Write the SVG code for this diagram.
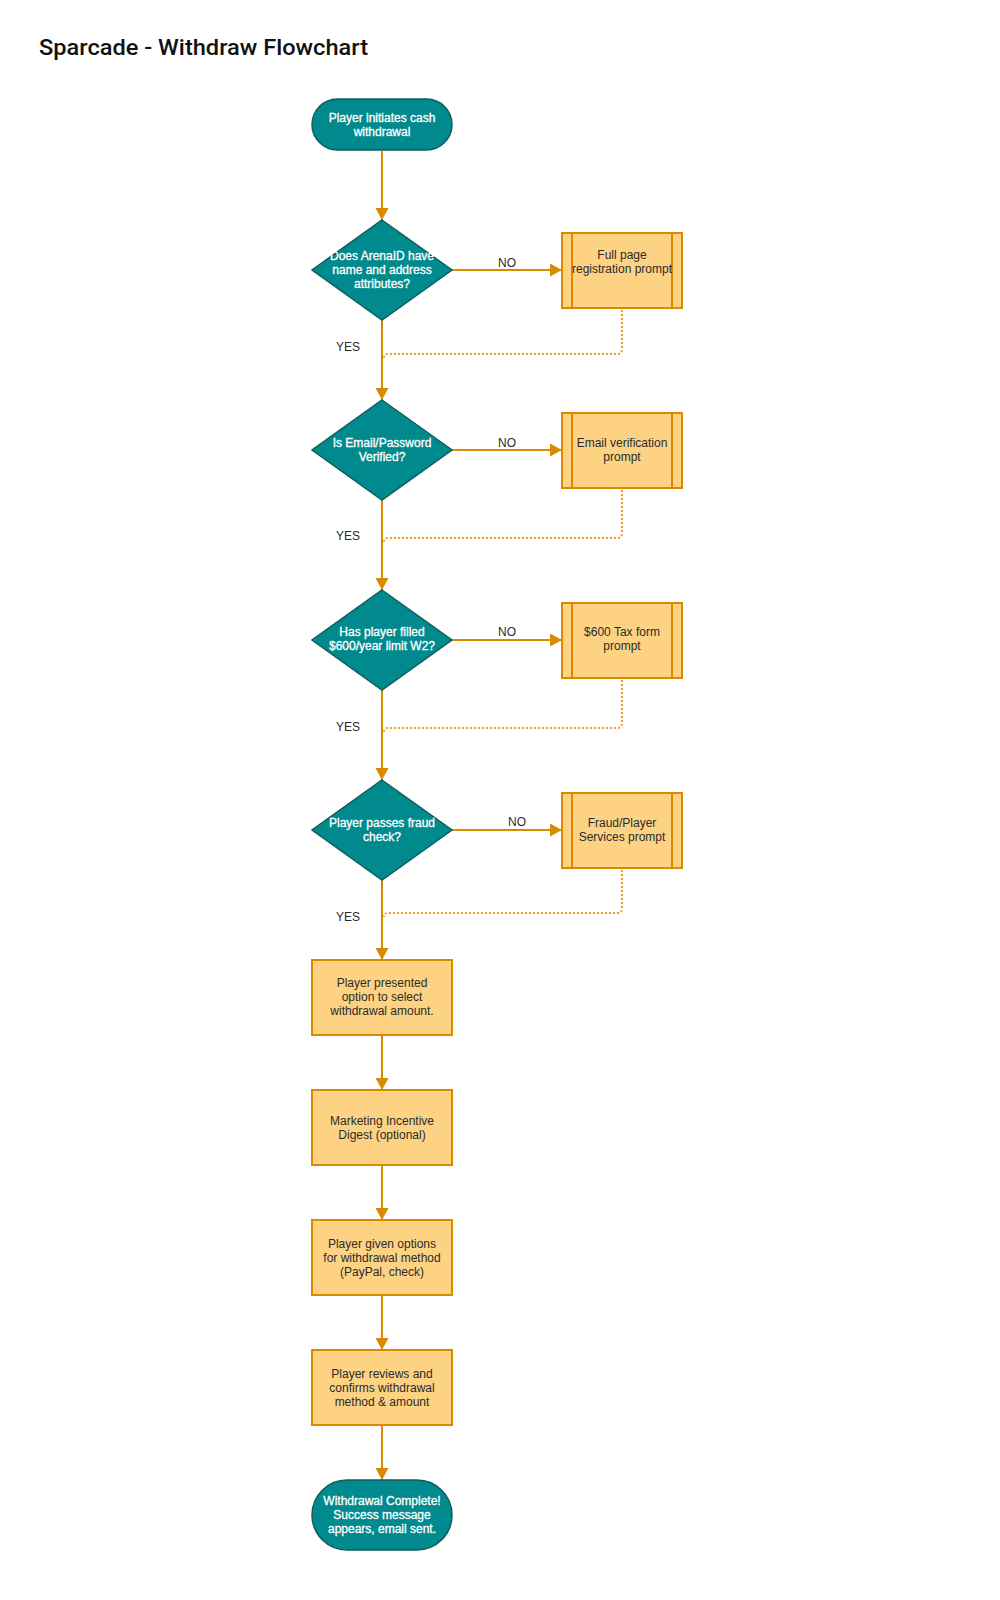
<svg xmlns="http://www.w3.org/2000/svg" width="1000" height="1600" viewBox="0 0 1000 1600">
<style>
.term{fill:#008a8e;stroke:#0e5e60;stroke-width:1.5}
.dec{fill:#008a8e;stroke:#0e5e60;stroke-width:1.5}
.proc{fill:#fdd283;stroke:#da8a00;stroke-width:2}
.sub{fill:none;stroke:#da8a00;stroke-width:2}
.wt{font-family:"Liberation Sans",Arial,sans-serif;font-size:12px;fill:#ffffff;stroke:#ffffff;stroke-width:0.3;text-anchor:middle}
.dt{font-family:"Liberation Sans",Arial,sans-serif;font-size:12px;fill:#2b2b2b;text-anchor:middle}
.lbl{font-family:"Liberation Sans",Arial,sans-serif;font-size:12px;fill:#2b2b2b;text-anchor:middle}
.edge{fill:none;stroke:#da8a00;stroke-width:2}
.dot{fill:none;stroke:#ee9c28;stroke-width:2;stroke-dasharray:2 2}
.title{font-family:Roboto,"DejaVu Sans",sans-serif;font-size:22px;font-weight:500;fill:#111111}
</style>
<defs>
<marker id="arr" viewBox="0 0 12 13" refX="12" refY="6.5" markerWidth="12" markerHeight="13" markerUnits="userSpaceOnUse" orient="auto">
<path d="M0,0 L12,6.5 L0,13 z" fill="#da8a00"/>
</marker>
</defs>
<rect width="1000" height="1600" fill="#ffffff"/>
<text class="title" x="39" y="55" textLength="329" lengthAdjust="spacingAndGlyphs">Sparcade - Withdraw Flowchart</text>

<g id="connectors">
<path class="edge" d="M382,151 V220" marker-end="url(#arr)"/>
<path class="edge" d="M452,270 H562" marker-end="url(#arr)"/>
<path class="edge" d="M382,320 V400" marker-end="url(#arr)"/>
<path class="dot" d="M622,310 V349 Q622,354 617,354 H388 Q384,354 384,358"/>
<path class="edge" d="M452,450 H562" marker-end="url(#arr)"/>
<path class="edge" d="M382,500 V590" marker-end="url(#arr)"/>
<path class="dot" d="M622,490 V533 Q622,538 617,538 H388 Q384,538 384,542"/>
<path class="edge" d="M452,640 H562" marker-end="url(#arr)"/>
<path class="edge" d="M382,690 V780" marker-end="url(#arr)"/>
<path class="dot" d="M622,680 V723 Q622,728 617,728 H388 Q384,728 384,732"/>
<path class="edge" d="M452,830 H562" marker-end="url(#arr)"/>
<path class="edge" d="M382,880 V960" marker-end="url(#arr)"/>
<path class="dot" d="M622,870 V908 Q622,913 617,913 H388 Q384,913 384,917"/>
<path class="edge" d="M382,1035 V1090" marker-end="url(#arr)"/>
<path class="edge" d="M382,1165 V1220" marker-end="url(#arr)"/>
<path class="edge" d="M382,1295 V1350" marker-end="url(#arr)"/>
<path class="edge" d="M382,1425 V1480" marker-end="url(#arr)"/>
<text class="lbl" x="507" y="267">NO</text>
<text class="lbl" x="507" y="447">NO</text>
<text class="lbl" x="507" y="636">NO</text>
<text class="lbl" x="517" y="826">NO</text>
<text class="lbl" x="348" y="351">YES</text>
<text class="lbl" x="348" y="540">YES</text>
<text class="lbl" x="348" y="731">YES</text>
<text class="lbl" x="348" y="921">YES</text>
</g>

<g id="start">
<rect class="term" x="312" y="99" width="140" height="51" rx="25.5"/>
<text class="wt" x="382" y="122">Player initiates cash</text>
<text class="wt" x="382" y="136">withdrawal</text>
</g>

<g id="d1">
<polygon class="dec" points="382,220 452,270 382,320 312,270"/>
<text class="wt" x="382" y="260">Does ArenaID have</text>
<text class="wt" x="382" y="274">name and address</text>
<text class="wt" x="382" y="288">attributes?</text>
</g>
<g id="p1">
<rect class="proc" x="562" y="233" width="120" height="75"/>
<path class="sub" d="M572,233 V308 M672,233 V308"/>
<text class="dt" x="622" y="259">Full page</text>
<text class="dt" x="622" y="273">registration prompt</text>
</g>

<g id="d2">
<polygon class="dec" points="382,400 452,450 382,500 312,450"/>
<text class="wt" x="382" y="447">Is Email/Password</text>
<text class="wt" x="382" y="461">Verified?</text>
</g>
<g id="p2">
<rect class="proc" x="562" y="413" width="120" height="75"/>
<path class="sub" d="M572,413 V488 M672,413 V488"/>
<text class="dt" x="622" y="447">Email verification</text>
<text class="dt" x="622" y="461">prompt</text>
</g>

<g id="d3">
<polygon class="dec" points="382,590 452,640 382,690 312,640"/>
<text class="wt" x="382" y="636">Has player filled</text>
<text class="wt" x="382" y="650">$600/year limit W2?</text>
</g>
<g id="p3">
<rect class="proc" x="562" y="603" width="120" height="75"/>
<path class="sub" d="M572,603 V678 M672,603 V678"/>
<text class="dt" x="622" y="636">$600 Tax form</text>
<text class="dt" x="622" y="650">prompt</text>
</g>

<g id="d4">
<polygon class="dec" points="382,780 452,830 382,880 312,830"/>
<text class="wt" x="382" y="827">Player passes fraud</text>
<text class="wt" x="382" y="841">check?</text>
</g>
<g id="p4">
<rect class="proc" x="562" y="793" width="120" height="75"/>
<path class="sub" d="M572,793 V868 M672,793 V868"/>
<text class="dt" x="622" y="827">Fraud/Player</text>
<text class="dt" x="622" y="841">Services prompt</text>
</g>

<g id="p5">
<rect class="proc" x="312" y="960" width="140" height="75"/>
<text class="dt" x="382" y="987">Player presented</text>
<text class="dt" x="382" y="1001">option to select</text>
<text class="dt" x="382" y="1015">withdrawal amount.</text>
</g>
<g id="p6">
<rect class="proc" x="312" y="1090" width="140" height="75"/>
<text class="dt" x="382" y="1125">Marketing Incentive</text>
<text class="dt" x="382" y="1139">Digest (optional)</text>
</g>
<g id="p7">
<rect class="proc" x="312" y="1220" width="140" height="75"/>
<text class="dt" x="382" y="1248">Player given options</text>
<text class="dt" x="382" y="1262">for withdrawal method</text>
<text class="dt" x="382" y="1276">(PayPal, check)</text>
</g>
<g id="p8">
<rect class="proc" x="312" y="1350" width="140" height="75"/>
<text class="dt" x="382" y="1378">Player reviews and</text>
<text class="dt" x="382" y="1392">confirms withdrawal</text>
<text class="dt" x="382" y="1406">method &amp; amount</text>
</g>
<g id="end">
<rect class="term" x="312" y="1480" width="140" height="70" rx="35"/>
<text class="wt" x="382" y="1505">Withdrawal Complete!</text>
<text class="wt" x="382" y="1519">Success message</text>
<text class="wt" x="382" y="1533">appears, email sent.</text>
</g>
</svg>
